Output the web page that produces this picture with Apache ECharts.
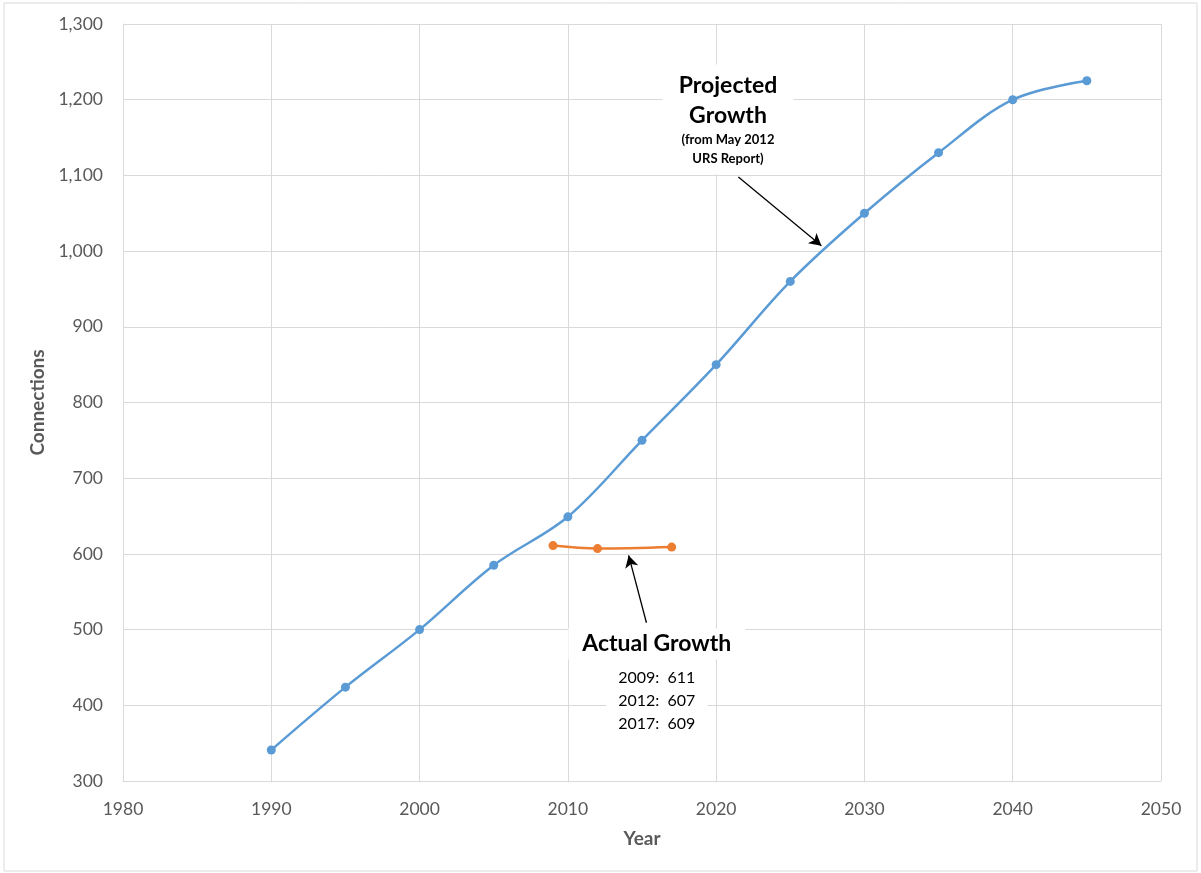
<!DOCTYPE html>
<html>

<head>
    <meta charset="utf-8">
</head>

<body style="height: 100%; margin: 0">
    <div id="container" style="width: 1201px; height: 873px"></div>
    <script type="text/javascript" src="https://cdn.jsdelivr.net/npm/echarts@6/dist/echarts.min.js"></script>
    <script>
        // projected growth (May 2012 URS report)
        var projYears = [1990, 1995, 2000, 2005, 2010, 2015, 2020, 2025, 2030, 2035, 2040, 2045]
        var projValues = [341, 424, 500, 585, 649, 750, 850, 960, 1050, 1130, 1200, 1225]
        // actual growth
        var actYears = [2009, 2012, 2017]
        var actValues = [611, 607, 609]

        var xTicks = [1980, 1990, 2000, 2010, 2020, 2030, 2040, 2050]
        var yTicks = [300, 400, 500, 600, 700, 800, 900, 1000, 1100, 1200, 1300]

        var fontName = 'Lato'
        var gray = '#595959'

        var dom = document.getElementById("container");
        var myChart = echarts.init(dom);

        var projData = projYears.map((y, i) => [y, projValues[i]])
        var actData = actYears.map((y, i) => [y, actValues[i]])

        var option = {
            animation: false,
            textStyle: { fontFamily: fontName },
            graphic: [{
                type: 'rect',
                shape: { x: 4, y: 3, width: 1193, height: 868 },
                style: { fill: 'none', stroke: '#d9d9d9', lineWidth: 1 },
                silent: true
            }],
            grid: { left: 123, right: 40, top: 24, bottom: 92 },
            xAxis: {
                type: 'value',
                min: xTicks[0],
                max: xTicks[xTicks.length - 1],
                interval: 10,
                name: 'Year',
                nameLocation: 'middle',
                nameGap: 48,
                nameTextStyle: { color: gray, fontSize: 19, fontWeight: 'bold', fontFamily: fontName },
                axisLine: { lineStyle: { color: '#d9d9d9', width: 1 } },
                axisTick: { show: false },
                axisLabel: { color: gray, fontSize: 17.5, margin: 19, fontFamily: fontName, formatter: v => String(v) },
                splitLine: { lineStyle: { color: '#d9d9d9', width: 1 } }
            },
            yAxis: {
                type: 'value',
                min: yTicks[0],
                max: yTicks[yTicks.length - 1],
                interval: 100,
                name: 'Connections',
                nameLocation: 'middle',
                nameGap: 76,
                nameTextStyle: { color: gray, fontSize: 19, fontWeight: 'bold', fontFamily: fontName },
                axisLine: { show: true, lineStyle: { color: '#d9d9d9', width: 1 } },
                axisTick: { show: false },
                axisLabel: {
                    color: gray, fontSize: 17.5, margin: 20, fontFamily: fontName,
                    formatter: v => v.toLocaleString('en-US')
                },
                splitLine: { lineStyle: { color: '#d9d9d9', width: 1 } }
            },
            series: [{
                name: 'Projected',
                type: 'line',
                smooth: 0.35,
                data: projData,
                symbol: 'circle',
                symbolSize: 9,
                lineStyle: { color: '#5b9bd5', width: 2.5 },
                itemStyle: { color: '#5b9bd5' },
                emphasis: { disabled: true },
                markLine: {
                    silent: true,
                    symbol: ['none', 'arrow'],
                    symbolSize: [10, 12],
                    label: { show: false },
                    lineStyle: { color: '#000', width: 1.3, type: 'solid' },
                    data: [
                        [{ coord: [2021.5, 1098] }, { coord: [2027.1, 1007] }],
                        [{ coord: [2015.3, 509] }, { coord: [2014.1, 598] }]
                    ]
                },
                markPoint: {
                    silent: true,
                    symbol: 'rect',
                    symbolSize: 0,
                    data: [{
                        coord: [2020.8, 1174],
                        label: {
                            show: true,
                            position: 'inside',
                            backgroundColor: '#fff',
                            padding: [6, 16, 6, 16],
                            align: 'center',
                            formatter: '{a|Projected}\n{a|Growth}\n{b|(from May 2012}\n{b|URS Report)}',
                            rich: {
                                a: { fontSize: 23, fontWeight: 'bold', color: '#000', lineHeight: 30, fontFamily: fontName, align: 'center' },
                                b: { fontSize: 13, fontWeight: 'bold', color: '#000', lineHeight: 19, fontFamily: fontName, align: 'center' }
                            }
                        }
                    }, {
                        coord: [2016.0, 481],
                        label: {
                            show: true,
                            position: 'inside',
                            backgroundColor: '#fff',
                            padding: [4, 14, 4, 14],
                            formatter: 'Actual Growth',
                            fontSize: 23,
                            fontWeight: 'bold',
                            color: '#000',
                            fontFamily: fontName
                        }
                    }, {
                        coord: [2016.0, 406],
                        label: {
                            show: true,
                            position: 'inside',
                            backgroundColor: '#fff',
                            padding: [6, 12, 6, 12],
                            lineHeight: 23,
                            formatter: actYears.map((y, i) => y + ':  ' + actValues[i]).join('\n'),
                            fontSize: 16,
                            color: '#000',
                            fontFamily: fontName
                        }
                    }]
                }
            }, {
                name: 'Actual',
                type: 'line',
                smooth: 0.35,
                data: actData,
                symbol: 'circle',
                symbolSize: 9,
                lineStyle: { color: '#ed7d31', width: 2.5 },
                itemStyle: { color: '#ed7d31' },
                emphasis: { disabled: true }
            }]
        };
        myChart.setOption(option)
    </script>

</body>

</html>
